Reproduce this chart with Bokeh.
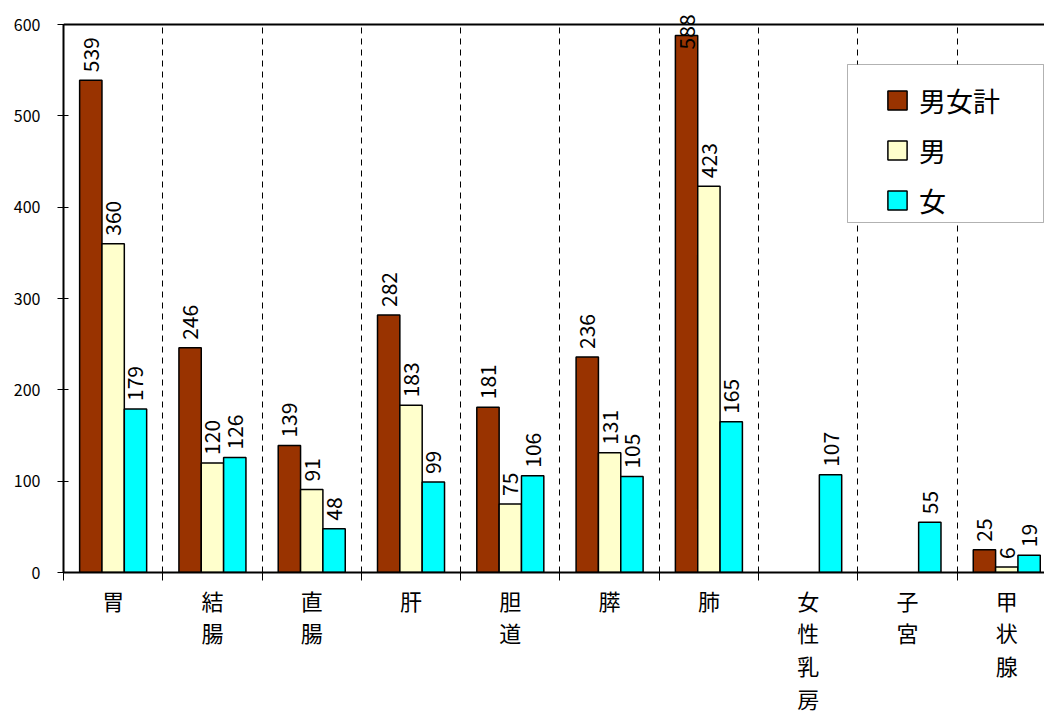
import numpy as np
from bokeh.plotting import figure
from bokeh.models import (ColumnDataSource, FixedTicker, Range1d, LabelSet,
                          Legend, LegendItem, Span, BoxAnnotation)
from bokeh.core.properties import value
from bokeh.embed import file_html
from bokeh.resources import INLINE

# ---- data ----
categories = ["胃", "結腸", "直腸", "肝", "胆道", "膵", "肺", "女性乳房", "子宮", "甲状腺"]
total = [539, 246, 139, 282, 181, 236, 588, None, None, 25]
male = [360, 120, 91, 183, 75, 131, 423, None, None, 6]
female = [179, 126, 48, 99, 106, 105, 165, 107, 55, 19]
series_names = ["男女計", "男", "女"]
y_ticks = [0, 100, 200, 300, 400, 500, 600]

# ---- styles / layout ----
colors = ["#993300", "#FFFFCC", "#00FFFF"]
FONT_NAME = "Noto Sans CJK JP"
FONT = value(FONT_NAME)
bar_w = 0.225
offsets = [-bar_w, 0.0, bar_w]
Y_MAX = 600
Y_TOP = 626.3      # extra head-room above the plot area for the labels
n = len(categories)

p = figure(width=1044, height=718,
           x_range=Range1d(-0.5, 9.38), y_range=Range1d(0, Y_TOP),
           output_backend="svg", toolbar_location=None,
           min_border_left=63, min_border_right=0,
           min_border_top=0, min_border_bottom=146)
p.outline_line_color = None
p.background_fill_color = "white"
p.border_fill_color = "white"

# grids (dashed separators between categories)
p.ygrid.grid_line_color = None
p.xgrid.ticker = FixedTicker(ticks=[i + 0.5 for i in range(n - 1)])
p.xgrid.grid_line_color = "black"
p.xgrid.grid_line_dash = "6 5"
p.xgrid.grid_line_width = 1
# hide the grid above the plot area
p.add_layout(BoxAnnotation(bottom=Y_MAX, fill_color="white", fill_alpha=1,
                           line_color=None, level="glyph"))

renderers = []
for s, (name, vals, color) in enumerate(zip(series_names, [total, male, female], colors)):
    xs = [i + offsets[s] for i, v in enumerate(vals) if v is not None]
    ys = [v for v in vals if v is not None]
    src = ColumnDataSource(dict(
        x=xs, top=ys,
        ly=list(np.minimum(ys, Y_MAX - 36)),
        txt=[str(v) for v in ys]))
    r = p.vbar(x="x", top="top", width=bar_w, source=src,
               fill_color=color, line_color="black", line_width=1.5)
    renderers.append(r)
    p.add_layout(LabelSet(x="x", y="ly", text="txt", source=src,
                          angle=np.pi / 2, text_align="left",
                          text_baseline="middle", y_offset=8,
                          text_font=FONT, text_font_size="21px",
                          text_color="black"))

# top border of plot area
p.add_layout(Span(location=Y_MAX, dimension="width", line_color="black", line_width=2))

# legend frame
p.add_layout(BoxAnnotation(left=847, right=1043, top=64, bottom=222,
                           left_units="canvas", right_units="canvas",
                           top_units="canvas", bottom_units="canvas",
                           fill_color="white", fill_alpha=1,
                           line_color="black", line_width=1))

items = [LegendItem(label=nm, renderers=[r]) for nm, r in zip(series_names, renderers)]
legend = Legend(items=items, location=(822, 348), padding=10, margin=0,
                glyph_width=24, glyph_height=24, label_height=48, spacing=2,
                label_standoff=10, label_width=90,
                label_text_font=FONT_NAME, label_text_font_size="27px",
                label_text_color="black",
                border_line_color=None, background_fill_alpha=0)
p.add_layout(legend)

# x axis
xa = p.xaxis[0]
xa.ticker = FixedTicker(ticks=list(range(n)),
                        minor_ticks=[i - 0.5 for i in range(n + 1)])
xa.major_label_overrides = {i: "\n".join(c) for i, c in enumerate(categories)}
xa.major_tick_line_color = None
xa.major_tick_in = 0
xa.major_tick_out = 0
xa.minor_tick_in = 0
xa.minor_tick_out = 8
xa.minor_tick_line_color = "black"
xa.axis_line_color = "black"
xa.axis_line_width = 2
xa.major_label_text_font = FONT_NAME
xa.major_label_text_font_size = "22px"
xa.major_label_text_color = "black"
xa.major_label_text_line_height = 1.03
xa.major_label_standoff = 3

# y axis
ya = p.yaxis[0]
ya.bounds = (0, Y_MAX)
ya.ticker = FixedTicker(ticks=y_ticks)
ya.major_tick_in = 5
ya.major_tick_out = 6
ya.major_tick_line_color = "black"
ya.minor_tick_line_color = None
ya.axis_line_color = "black"
ya.axis_line_width = 2
ya.major_label_text_font = FONT_NAME
ya.major_label_text_font_size = "16px"
ya.major_label_text_color = "black"
ya.major_label_standoff = 17

open("out.html", "w").write(file_html(p, INLINE))
